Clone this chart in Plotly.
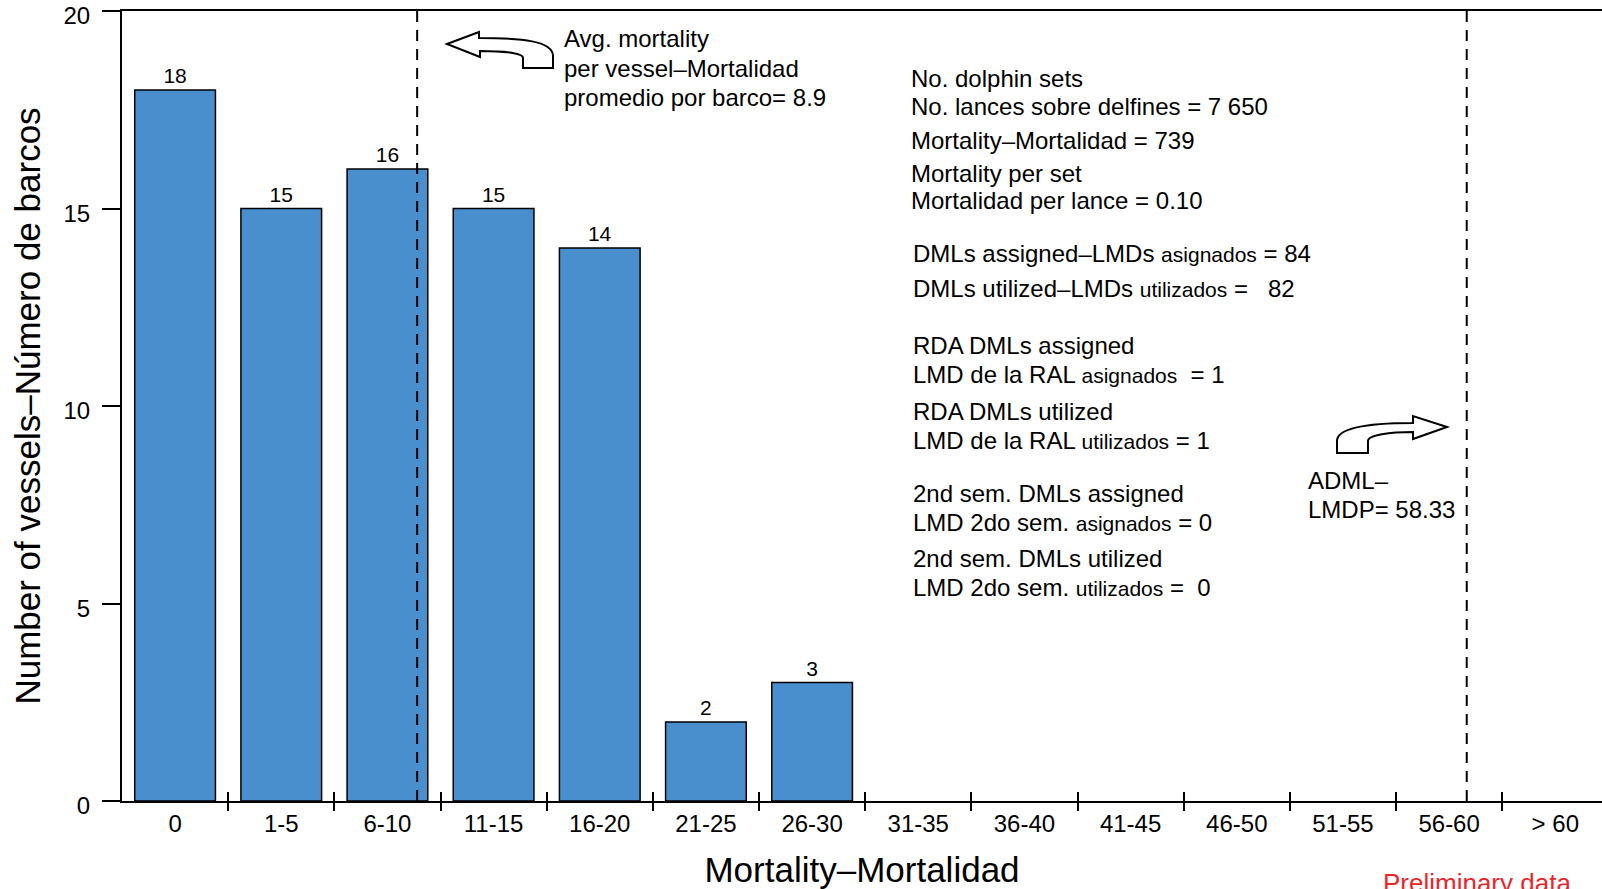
import plotly.graph_objects as go

# ---- data ----
categories = ["0", "1-5", "6-10", "11-15", "16-20", "21-25", "26-30", "31-35",
              "36-40", "41-45", "46-50", "51-55", "56-60", "> 60"]
vessels = [18, 15, 16, 15, 14, 2, 3, 0, 0, 0, 0, 0, 0, 0]
avg_mortality = 8.9      # average mortality per vessel
adml = 58.33             # ADML - LMDP
class_width = 5

stats_lines = [
    "No. dolphin sets",
    "No. lances sobre delfines = 7 650",
    "Mortality\u2013Mortalidad = 739",
    "Mortality per set",
    "Mortalidad per lance = 0.10",
    "DMLs assigned\u2013LMDs <span style='font-size:21px'>asignados</span> = 84",
    "DMLs utilized\u2013LMDs <span style='font-size:21px'>utilizados</span> =\u00a0\u00a0 82",
    "RDA DMLs assigned",
    "LMD de la RAL <span style='font-size:21px'>asignados</span>\u00a0 = 1",
    "RDA DMLs utilized",
    "LMD de la RAL <span style='font-size:21px'>utilizados</span> = 1",
    "2nd sem. DMLs assigned",
    "LMD 2do sem. <span style='font-size:21px'>asignados</span> = 0",
    "2nd sem. DMLs utilized",
    "LMD 2do sem. <span style='font-size:21px'>utilizados</span> =\u00a0 0",
]
avg_lines = ["Avg. mortality", "per vessel\u2013Mortalidad", "promedio por barco= 8.9"]
adml_lines = ["ADML\u2013", "LMDP= 58.33"]

# ---- layout geometry (pixels) ----
W, H = 1602, 889
ML, MR, MT, MB = 122, 0, 11, 88
PW, PH = W - ML - MR, H - MT - MB
FONT = "Liberation Sans, Arial, sans-serif"

def P(px, py):
    return (px - ML) / PW, (H - MB - py) / PH

def path_px(cmds):
    out = []
    for c, pts in cmds:
        s = c
        for (px, py) in pts:
            x, y = P(px, py)
            s += f" {x:.5f},{y:.5f}"
        out.append(s)
    return " ".join(out)

def val_to_x(v):
    return v / class_width + 0.5

x_idx = list(range(len(categories)))
boundaries = [i + 0.5 for i in range(len(categories) - 1)]
xr = [-0.5, 13.44]

fig = go.Figure()
fig.add_trace(go.Bar(
    x=x_idx, y=vessels, width=0.76,
    marker=dict(color="#4A8FCD",
                line=dict(color="black", width=[1.5 if v else 0 for v in vessels])),
    text=[str(v) if v else "" for v in vessels],
    textposition="outside", textfont=dict(size=21, color="black", family=FONT),
    cliponaxis=False, hoverinfo="x+y",
))
fig.add_trace(go.Scatter(x=[None], y=[None], xaxis="x2", showlegend=False, hoverinfo="skip"))
fig.add_trace(go.Scatter(x=[None], y=[None], xaxis="x3", showlegend=False, hoverinfo="skip"))

common_x = dict(range=xr, showgrid=False, zeroline=False, fixedrange=True)
fig.update_layout(
    width=W, height=H,
    margin=dict(l=ML, r=MR, t=MT, b=MB),
    plot_bgcolor="white", paper_bgcolor="white",
    showlegend=False,
    font=dict(family=FONT, color="black"),
    xaxis=dict(**common_x, tickmode="array", tickvals=x_idx, ticktext=categories,
               ticks="", showline=True, linewidth=2, linecolor="black", mirror=True,
               tickfont=dict(size=24), ticklabelstandoff=0,
               title=dict(text="Mortality\u2013Mortalidad", font=dict(size=35), standoff=24),
               automargin=False),
    xaxis2=dict(**common_x, overlaying="x", anchor="y", side="bottom",
                tickmode="array", tickvals=boundaries, ticks="outside", ticklen=9,
                tickwidth=2, tickcolor="black", showticklabels=False, showline=False),
    xaxis3=dict(**common_x, overlaying="x", anchor="y", side="bottom",
                tickmode="array", tickvals=boundaries, ticks="inside", ticklen=9,
                tickwidth=2, tickcolor="black", showticklabels=False, showline=False),
    yaxis=dict(range=[0, 20], tickmode="array", tickvals=[0, 5, 10, 15, 20],
               ticks="outside", ticklen=18, tickwidth=2, tickcolor="black",
               showline=True, linewidth=2, linecolor="black", showgrid=False,
               zeroline=False, tickfont=dict(size=24), ticklabelstandoff=7,
               ticklabelshift=5, ticklabeloverflow="allow",
               title=dict(text="Number of vessels\u2013N\u00famero de barcos",
                          font=dict(size=35), standoff=12),
               automargin=False, fixedrange=True),
)

# reference lines
for v in (avg_mortality, adml):
    fig.add_shape(type="line", xref="x", yref="y", x0=val_to_x(v), x1=val_to_x(v),
                  y0=0, y1=20, line=dict(color="black", width=2, dash="11px,8px"),
                  layer="above")

# block arrows
left_arrow = [("M", [(447, 44)]), ("L", [(479, 32)]), ("L", [(479, 38)]),
              ("C", [(522, 38), (553, 41), (553, 56)]), ("L", [(553, 68)]),
              ("L", [(523, 68)]), ("L", [(523, 58)]),
              ("C", [(523, 53), (502, 51), (480, 51)]), ("L", [(480, 57)]), ("Z", [])]
right_arrow = [("M", [(1447, 427)]), ("L", [(1413, 416)]), ("L", [(1413, 423)]),
               ("C", [(1368, 423), (1337, 428), (1337, 441)]), ("L", [(1337, 453)]),
               ("L", [(1368, 453)]), ("L", [(1368, 441)]),
               ("C", [(1368, 435), (1390, 432), (1413, 432)]), ("L", [(1413, 439)]), ("Z", [])]
for arr in (left_arrow, right_arrow):
    fig.add_shape(type="path", xref="paper", yref="paper", path=path_px(arr),
                  fillcolor="white", line=dict(color="black", width=2), layer="above")

def add_text(txt, px, py, size=24, color="black", yanchor="middle"):
    x, y = P(px, py)
    fig.add_annotation(text=txt, x=x, y=y, xref="paper", yref="paper",
                       xanchor="left", yanchor=yanchor, showarrow=False,
                       font=dict(size=size, color=color, family=FONT))

stats_y = [78, 107, 140, 173, 201, 254, 288, 345, 374, 411, 440, 494, 522, 558, 587]
stats_x = [909] * 5 + [911] * 10
for t, xx, yy in zip(stats_lines, stats_x, stats_y):
    add_text(t, xx, yy)

for t, yy in zip(avg_lines, [39, 68, 97]):
    add_text(t, 562, yy)

for t, yy in zip(adml_lines, [480, 509]):
    add_text(t, 1306, yy)

add_text("Preliminary data", 1381, 866, size=26, color="#E8262B", yanchor="top")

fig.write_html("out.html", config={"displayModeBar": False},
               post_script="document.body.style.margin='0';")
